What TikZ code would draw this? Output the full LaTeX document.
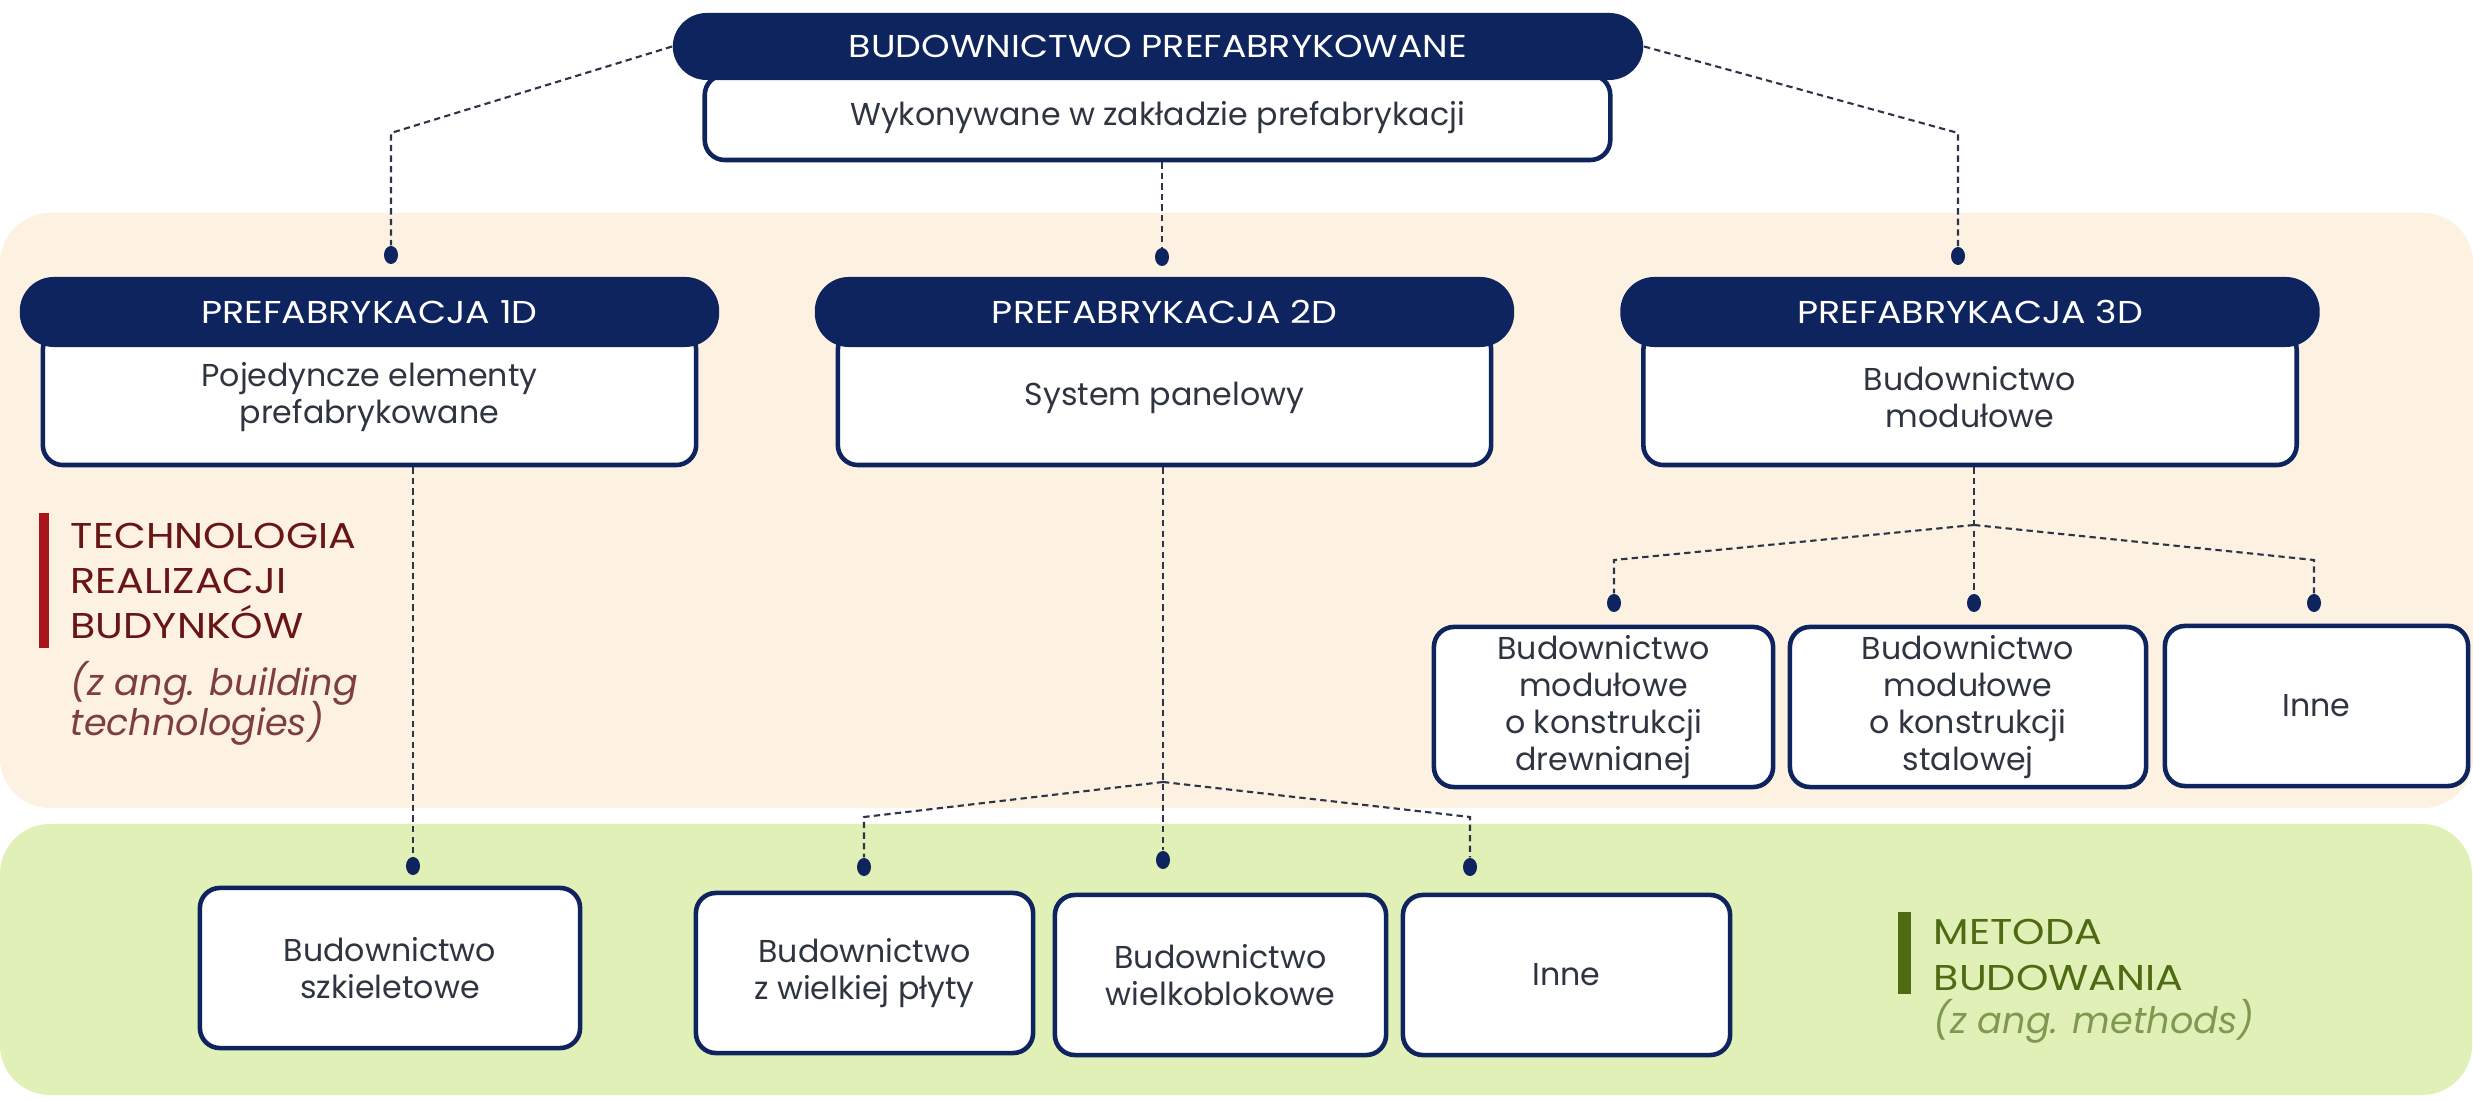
\documentclass[tikz,border=0pt]{standalone}
\usepackage{fontspec}
\setmainfont{Poppins}
\newfontfamily\capsfont[FakeStretch=1.15]{Poppins}
\usetikzlibrary{shapes.geometric}

\definecolor{navy}{HTML}{0E245E}
\definecolor{tanbg}{HTML}{FDF2E2}
\definecolor{greenbg}{HTML}{E1F0B7}
\definecolor{boxtext}{HTML}{2F3540}
\definecolor{linkgray}{HTML}{2C3548}
\definecolor{techred}{HTML}{A8161C}
\definecolor{techtext}{HTML}{6A1515}
\definecolor{techsub}{HTML}{7E3E3E}
\definecolor{metgreen}{HTML}{4E6B14}
\definecolor{metsub}{HTML}{7F9A50}

\tikzset{
  headbox/.style={fill=navy, text=white, rounded corners=3.4mm, minimum height=7mm, minimum width=69.9mm, inner sep=0pt, font=\capsfont\fontsize{9}{11}\selectfont},
  bodybox/.style={draw=navy, line width=1.3pt, fill=white, rounded corners=2mm, text=boxtext, align=center, inner sep=0pt, font=\fontsize{9}{10.5}\selectfont},
  leafbox/.style={bodybox, minimum height=16mm},
  dotmark/.style={ellipse, fill=navy, inner sep=0pt, minimum width=1.4mm, minimum height=1.8mm},
  linkline/.style={draw=linkgray, line width=0.6pt, dash pattern=on 1.8pt off 1.2pt},
  sidelbl/.style={anchor=north west, align=left, inner sep=0pt, font=\capsfont\fontsize{10.2}{12.8}\selectfont},
  sidesub/.style={anchor=north west, align=left, inner sep=0pt, font=\fontsize{10.4}{10.8}\selectfont\itshape}
}

\begin{document}
\begin{tikzpicture}[x=0.01cm,y=-0.01cm]
\useasboundingbox (0,0) rectangle (2473,1101);
\fill[white] (0,0) rectangle (2473,1101);
\fill[tanbg, rounded corners=5mm] (0,213) rectangle (2473,808);
\fill[greenbg, rounded corners=5mm] (0,824) rectangle (2472,1095);

\fill[techred] (39,513) rectangle (49,648);
\node[sidelbl, text=techtext] (techlbl) at (70,522) {TECHNOLOGIA\\REALIZACJI\\BUDYNKÓW};
\node[sidesub, text=techsub] (techsub) at ([yshift=-2.2mm]techlbl.south west) {(z ang. building\\[-0.8mm]technologies)};
\fill[metgreen] (1898,912) rectangle (1911,994);
\node[sidelbl, text=metgreen] (metlbl) at (1933,919) {METODA\\BUDOWANIA};
\node[sidesub, text=metsub] (metsub) at ([yshift=-0.8mm]metlbl.south west) {(z ang. methods)};

\node[bodybox, minimum width=90.5mm, minimum height=8.5mm] (topbody) at (1157.5,117.5) {Wykonywane w zakładzie prefabrykacji};
\node[headbox, minimum width=97mm, minimum height=6.7mm] (top) at (1158,46.5) {BUDOWNICTWO PREFABRYKOWANE};

\node[bodybox, minimum width=65.3mm, minimum height=13.5mm] (body1) at (369.5,397.5) {Pojedyncze elementy\\prefabrykowane};
\node[headbox] (head1) at (369.5,312) {PREFABRYKACJA 1D};
\node[bodybox, minimum width=65.3mm, minimum height=13.5mm] (body2) at (1164.5,397.5) {System panelowy};
\node[headbox] (head2) at (1164.5,312) {PREFABRYKACJA 2D};
\node[bodybox, minimum width=65.3mm, minimum height=13.5mm] (body3) at (1970,397.5) {Budownictwo\\modułowe};
\node[headbox] (head3) at (1970,312) {PREFABRYKACJA 3D};

\node[dotmark] (d1) at (391,255) {};
\node[dotmark] (d2) at (1162,257) {};
\node[dotmark] (d3) at (1958,256) {};
\coordinate (t1) at (391,133);
\coordinate (t3) at (1958,133);
\draw[linkline] (top.west) -- (t1) -- (d1);
\draw[linkline] (top.east) -- (t3) -- (d3);
\draw[linkline] (topbody.south -| d2) -- (d2);

\node[leafbox, minimum width=33.9mm] (mod1) at (1603.5,707) {Budownictwo\\modułowe\\o konstrukcji\\drewnianej};
\node[leafbox, minimum width=35.6mm] (mod2) at (1968,707) {Budownictwo\\modułowe\\o konstrukcji\\stalowej};
\node[leafbox, minimum width=30.3mm] (mod3) at (2316.5,706) {Inne};
\node[dotmark] (e1) at (1614,603) {};
\node[dotmark] (e2) at (1974,603) {};
\node[dotmark] (e3) at (2314,603) {};
\coordinate (k3) at (1974,525);
\coordinate (c3l) at (1614,560);
\coordinate (c3r) at (2314,560);
\draw[linkline] (body3.south -| k3) -- (k3) -- (e2);
\draw[linkline] (k3) -- (c3l) -- (e1);
\draw[linkline] (k3) -- (c3r) -- (e3);

\node[leafbox, minimum width=33.7mm] (pan1) at (864.5,973) {Budownictwo\\z wielkiej płyty};
\node[leafbox, minimum width=33.1mm] (pan2) at (1220.5,975) {Budownictwo\\wielkoblokowe};
\node[leafbox, minimum width=32.7mm] (pan3) at (1566.5,975) {Inne};
\node[dotmark] (f1) at (864,867) {};
\node[dotmark] (f2) at (1163,860) {};
\node[dotmark] (f3) at (1470,867) {};
\coordinate (k2) at (1163,782);
\coordinate (c2l) at (864,817);
\coordinate (c2r) at (1470,817);
\draw[linkline] (body2.south -| k2) -- (k2) -- (f2);
\draw[linkline] (k2) -- (c2l) -- (f1);
\draw[linkline] (k2) -- (c2r) -- (f3);

\node[leafbox, minimum width=38mm] (skel) at (390,968) {Budownictwo\\szkieletowe};
\node[dotmark] (g1) at (413,866) {};
\draw[linkline] (body1.south -| g1) -- (g1);
\end{tikzpicture}
\end{document}
